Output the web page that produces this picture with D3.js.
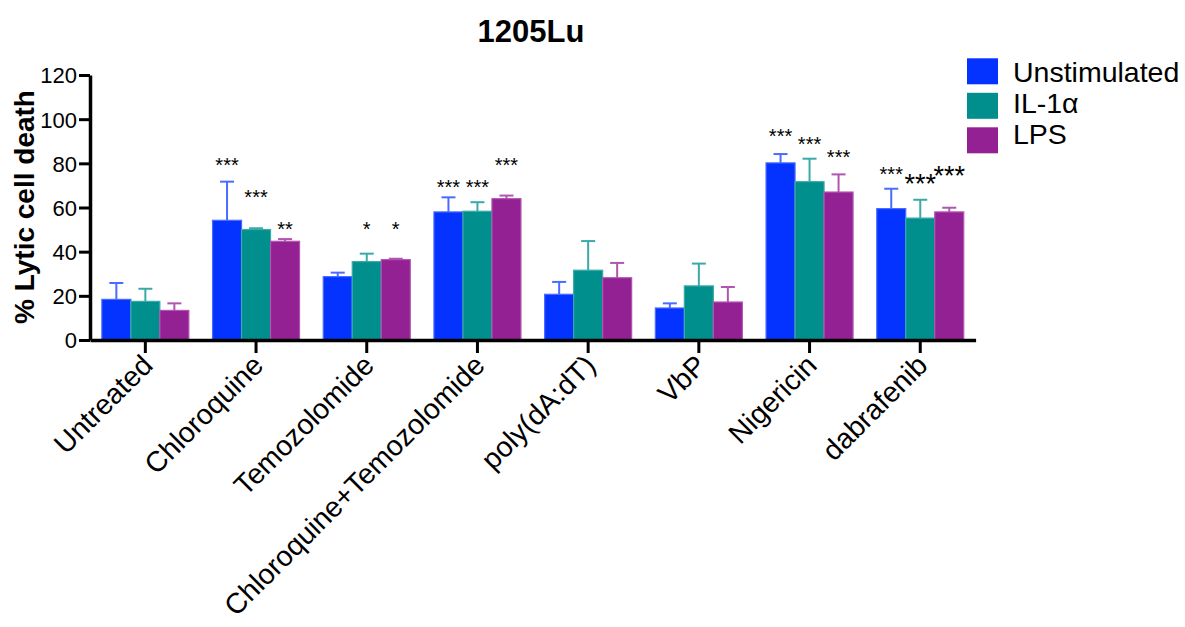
<!DOCTYPE html>
<html>
<head>
<meta charset="utf-8">
<script src="https://cdn.jsdelivr.net/npm/d3@7"></script>
<style>
  html, body { margin: 0; padding: 0; background: #fff; }
  svg { display: block; font-family: "Liberation Sans", Arial, Helvetica, sans-serif; }
</style>
</head>
<body>
<svg id="chart" width="1185" height="627"></svg>
<script>
// Treatments along the x axis
const categories = ["Untreated", "Chloroquine", "Temozolomide", "Chloroquine+Temozolomide",
                    "poly(dA:dT)", "VbP", "Nigericin", "dabrafenib"];
const seriesNames = ["Unstimulated", "IL-1\u03b1", "LPS"];

// Mean % lytic cell death and upper error (SD) per treatment
const unstimulated    = [18.4, 54.2, 28.7, 58.0, 20.7, 14.5, 80.2, 59.5];
const unstimulatedErr = [7.4, 17.5, 1.8, 6.6, 5.6, 2.1, 4.0, 9.0];
const il1a            = [17.5, 50.0, 35.5, 58.3, 31.6, 24.5, 71.7, 55.2];
const il1aErr         = [5.7, 0.6, 3.6, 4.1, 13.2, 10.1, 10.4, 8.3];
const lps             = [13.4, 44.7, 36.4, 64.0, 28.2, 17.2, 67.0, 58.0];
const lpsErr          = [3.2, 1.0, 0.4, 1.4, 6.7, 6.8, 8.0, 1.9];

// Significance markers and the value level they sit at
const unstimulatedSig  = ["", "***", "", "***", "", "", "***", "***"];
const unstimulatedSigY = [0, 81.1, 0, 71.5, 0, 0, 94.2, 77.4];
const il1aSig          = ["", "***", "*", "***", "", "", "***", "***"];
const il1aSigY         = [0, 66.7, 52.1, 71.5, 0, 0, 91.0, 73.4];
const lpsSig           = ["", "**", "*", "***", "", "", "***", "***"];
const lpsSigY          = [0, 52.1, 52.1, 81.1, 0, 0, 84.7, 77.0];

const yTicks = [0, 20, 40, 60, 80, 100, 120];

const seriesValues = [unstimulated, il1a, lps];
const seriesErrors = [unstimulatedErr, il1aErr, lpsErr];
const seriesSig    = [unstimulatedSig, il1aSig, lpsSig];
const seriesSigY   = [unstimulatedSigY, il1aSigY, lpsSigY];

const fillColors   = ["#0433ff", "#008f8c", "#942193"];
const edgeColors   = ["#4a6bff", "#3aaaa8", "#b055b0"];

const svg = d3.select("#chart");
const font = '"Liberation Sans", Arial, Helvetica, sans-serif';

const x = d3.scaleBand()
  .domain(categories)
  .range([90, 975.6])
  .paddingInner(0.214)
  .paddingOuter(0.107);

const xs = d3.scaleBand()
  .domain(d3.range(seriesNames.length))
  .range([0, x.bandwidth()])
  .padding(0);

const y = d3.scaleLinear().domain([0, 120]).range([340, 75]);

// Flatten into bar records
const bars = [];
categories.forEach((c, i) => {
  seriesValues.forEach((vals, s) => {
    bars.push({
      cat: c, s, value: vals[i], err: seriesErrors[s][i],
      sig: seriesSig[s][i], sigY: seriesSigY[s][i]
    });
  });
});

const barG = svg.append("g");

// Bars
barG.selectAll("rect.bar")
  .data(bars)
  .join("rect")
  .attr("class", "bar")
  .attr("x", d => x(d.cat) + xs(d.s))
  .attr("y", d => y(d.value))
  .attr("width", xs.bandwidth())
  .attr("height", d => y(0) - y(d.value))
  .attr("fill", d => fillColors[d.s])
  .attr("stroke", d => edgeColors[d.s])
  .attr("stroke-width", 1.2);

// Error bars (upper only)
const errG = barG.selectAll("g.err")
  .data(bars)
  .join("g")
  .attr("class", "err")
  .attr("stroke", d => edgeColors[d.s])
  .attr("stroke-width", 2);

errG.append("line")
  .attr("x1", d => x(d.cat) + xs(d.s) + xs.bandwidth() / 2)
  .attr("x2", d => x(d.cat) + xs(d.s) + xs.bandwidth() / 2)
  .attr("y1", d => y(d.value))
  .attr("y2", d => y(d.value + d.err));

errG.append("line")
  .attr("x1", d => x(d.cat) + xs(d.s) + xs.bandwidth() / 2 - 7)
  .attr("x2", d => x(d.cat) + xs(d.s) + xs.bandwidth() / 2 + 7)
  .attr("y1", d => y(d.value + d.err))
  .attr("y2", d => y(d.value + d.err));

// Significance asterisks
const bigStar = d => d.cat === "dabrafenib" && d.s > 0;
barG.selectAll("text.sig")
  .data(bars.filter(d => d.sig))
  .join("text")
  .attr("class", "sig")
  .attr("x", d => x(d.cat) + xs(d.s) + xs.bandwidth() / 2)
  .attr("y", d => y(d.sigY) + (bigStar(d) ? 15 : 11.5))
  .attr("text-anchor", "middle")
  .attr("font-family", font)
  .attr("font-size", d => bigStar(d) ? 27 : 20)
  .attr("fill", "#000")
  .text(d => d.sig);

// Y axis
const yAxis = svg.append("g")
  .attr("transform", "translate(90,0)")
  .call(d3.axisLeft(y).tickValues(yTicks).tickSize(11).tickPadding(2).tickSizeOuter(0));
yAxis.select(".domain").attr("stroke", "#000").attr("stroke-width", 3.5);
yAxis.selectAll(".tick line").attr("stroke", "#000").attr("stroke-width", 3);
yAxis.selectAll(".tick text")
  .attr("font-family", font)
  .attr("font-size", 22)
  .attr("fill", "#000")
  .attr("dy", "0.36em");

// X axis with slanted treatment labels
const xAxis = svg.append("g")
  .attr("transform", "translate(0,340)")
  .call(d3.axisBottom(x).tickSize(13).tickSizeOuter(0));
xAxis.select(".domain").attr("stroke", "#000").attr("stroke-width", 3.5);
xAxis.selectAll(".tick line").attr("stroke", "#000").attr("stroke-width", 3);
xAxis.selectAll(".tick text")
  .attr("font-family", font)
  .attr("font-size", 28.5)
  .attr("fill", "#000")
  .attr("text-anchor", "end")
  .attr("x", 0)
  .attr("y", 0)
  .attr("dy", null)
  .attr("transform", "translate(9,27) rotate(-45)");

// Title
svg.append("text")
  .attr("x", 531)
  .attr("y", 42)
  .attr("text-anchor", "middle")
  .attr("font-family", font)
  .attr("font-weight", "bold")
  .attr("font-size", 31)
  .text("1205Lu");

// Y axis title
svg.append("text")
  .attr("transform", "translate(34,207) rotate(-90)")
  .attr("text-anchor", "middle")
  .attr("font-family", font)
  .attr("font-weight", "bold")
  .attr("font-size", 28)
  .text("% Lytic cell death");

// Legend: swatches and labels
const legend = svg.append("g");
legend.selectAll("rect")
  .data(seriesNames)
  .join("rect")
  .attr("x", 967)
  .attr("y", (d, i) => 58.3 + i * 34.5)
  .attr("width", 31)
  .attr("height", 26)
  .attr("fill", (d, i) => fillColors[i]);
legend.selectAll("text")
  .data(seriesNames)
  .join("text")
  .attr("x", 1013)
  .attr("y", (d, i) => 82.3 + i * 31)
  .attr("font-family", font)
  .attr("font-size", 28.5)
  .attr("fill", "#000")
  .text(d => d);
</script>
</body>
</html>
